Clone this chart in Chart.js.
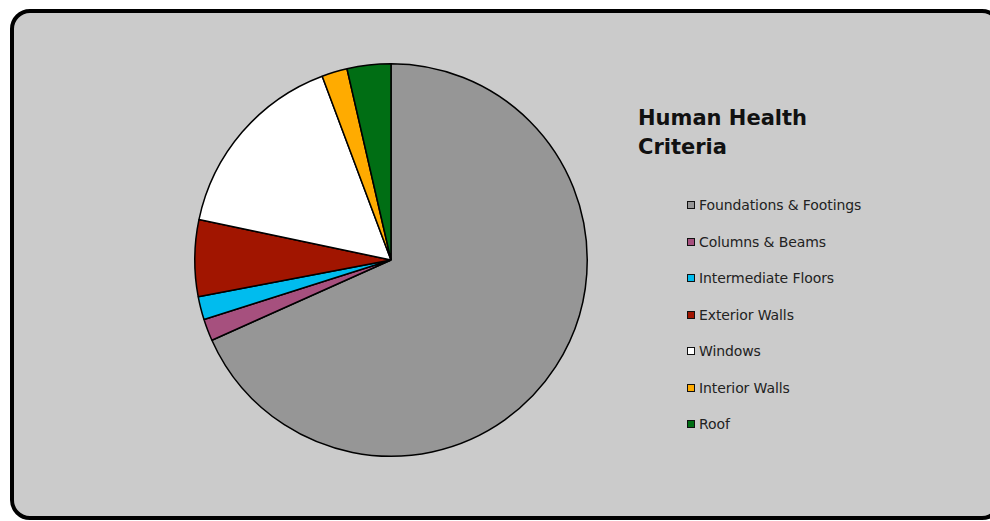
<!DOCTYPE html>
<html>
<head>
<meta charset="utf-8">
<script src="https://cdn.jsdelivr.net/npm/chart.js@4.4.0/dist/chart.umd.min.js"></script>
<style>
  html, body { margin: 0; padding: 0; background: #fff; width: 990px; height: 521px; overflow: hidden; }
  #frame {
    position: absolute; left: 10px; top: 9px; width: 984px; height: 503px;
    background: #cbcbcb; border: 4px solid #000; border-radius: 20px;
  }
  #pieWrap { position: absolute; left: 191px; top: 60px; width: 400px; height: 400px; }
  #title {
    position: absolute; left: 638px; top: 104px;
    font-family: "DejaVu Sans", Verdana, sans-serif; font-weight: bold;
    font-size: 21px; line-height: 29px; color: #111;
  }
  #legend { position: absolute; left: 687px; top: 197px; font-family: "DejaVu Sans", Verdana, sans-serif; font-size: 14px; color: #222; }
  .item { position: absolute; left: 0; white-space: nowrap; height: 16px; line-height: 16px; }
  .box { position: absolute; left: 0; top: 4px; width: 6px; height: 6px; border: 1px solid #111; }
  .lbl { position: absolute; left: 12px; top: 0; letter-spacing: -0.1px; }
</style>
</head>
<body>
<div id="frame"></div>
<div id="pieWrap"><canvas id="myChart" width="400" height="400"></canvas></div>
<div id="title">Human Health<br>Criteria</div>
<div id="legend"></div>
<script>
var categories = ['Foundations & Footings', 'Columns & Beams', 'Intermediate Floors', 'Exterior Walls', 'Windows', 'Interior Walls', 'Roof'];
var shares = [68.3, 1.8, 1.9, 6.3, 16.0, 2.1, 3.6];
var colors = ['#969696', '#a6507e', '#00bcee', '#a11500', '#ffffff', '#ffab00', '#006e14'];

var ctx = document.getElementById('myChart').getContext('2d');
var myChart = new Chart(ctx, {
    type: 'pie',
    data: {
        labels: categories,
        datasets: [{
            data: shares,
            backgroundColor: colors,
            borderColor: '#000',
            borderWidth: 1.5
        }]
    },
    options: {
        responsive: false,
        animation: false,
        layout: { padding: 3 },
        plugins: {
            legend: { display: false },
            tooltip: { enabled: false }
        }
    }
});

// legend built from the same arrays
var legend = document.getElementById('legend');
categories.forEach(function (name, i) {
    var item = document.createElement('div');
    item.className = 'item';
    item.style.top = (i * 36.5) + 'px';
    item.innerHTML = '<span class="box" style="background:' + colors[i] + '"></span><span class="lbl"></span>';
    item.querySelector('.lbl').textContent = name;
    legend.appendChild(item);
});
</script>
</body>
</html>
